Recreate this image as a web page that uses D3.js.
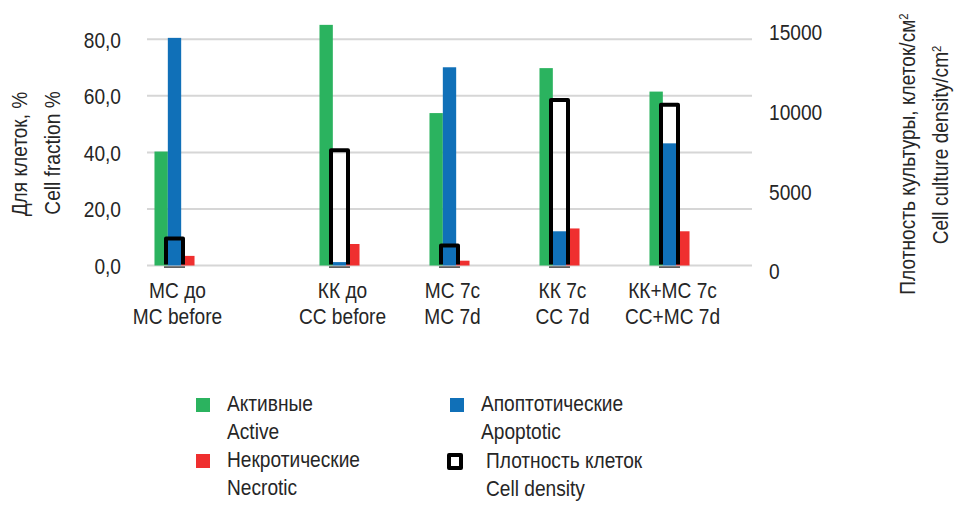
<!DOCTYPE html>
<html>
<head>
<meta charset="utf-8">
<script src="https://cdn.jsdelivr.net/npm/d3@7/dist/d3.min.js"></script>
<style>
  body { margin: 0; background: #fff; }
  text { font-family: "Liberation Sans", Arial, sans-serif; fill: #262626; }
</style>
</head>
<body>
<svg id="chart" width="956" height="507"></svg>
<script>
// Category slots along the x axis (blank slots are empty columns of the sheet)
const categoriesRu = ["МС до", "", "", "КК до", "", "МС 7с", "", "КК 7с", "", "КК+МС 7с", ""];
const categoriesEn = ["MC before", "", "", "CC before", "", "MC 7d", "", "CC 7d", "", "CC+MC 7d", ""];

// Cell fractions, % (left axis)
const activeValues    = [40.3, null, null, 85.1, null, 53.9, null, 69.8, null, 61.5, null];
const apoptoticValues = [80.5, null, null, 1.2,  null, 70.1, null, 12.1, null, 43.2, null];
const necroticValues  = [3.4,  null, null, 7.6,  null, 1.7,  null, 13.1, null, 12.1, null];

// Cell culture density, cells/cm² (right axis)
const densityValues   = [1700, null, null, 7250, null, 1250, null, 10400, null, 10100, null];

const leftTicks  = [0, 20, 40, 60, 80];
const rightTicks = [0, 5000, 10000, 15000];

const seriesNames = ["active", "apoptotic", "necrotic"];
const seriesColors = { active: "#2bb35f", apoptotic: "#1070b8", necrotic: "#ef2f2f" };

const svg = d3.select("#chart");
const plot = { left: 147, right: 752, top: 11, bottom: 265.5 };
const fontSize = 22;      // tall, condensed lettering
const squeeze = 0.87;     // horizontal condensation of all text

const slots = d3.range(categoriesRu.length);
const x0 = d3.scaleBand().domain(slots).range([plot.left, plot.right]).padding(0);
const x1 = d3.scaleBand().domain(seriesNames)
  .range([x0.bandwidth() * 0.136, x0.bandwidth() * 0.864]).padding(0);
const yLeft = d3.scaleLinear().domain([0, 90]).range([plot.bottom, plot.top]);
const yRight = d3.scaleLinear().domain([0, 16000]).range([plot.bottom, plot.top]);

// Text helper: positioned, optionally rotated, horizontally condensed
function addText(parent, x, y, str, opts = {}) {
  const rot = opts.rotate ? ` rotate(${opts.rotate})` : "";
  return parent.append("text")
    .attr("transform", `translate(${x},${y})${rot} scale(${squeeze},1)`)
    .attr("text-anchor", opts.anchor || "start")
    .attr("font-size", opts.size || fontSize)
    .text(str);
}

// Horizontal gridlines
svg.append("g").selectAll("line").data(leftTicks).join("line")
  .attr("x1", plot.left).attr("x2", plot.right)
  .attr("y1", d => yLeft(d)).attr("y2", d => yLeft(d))
  .attr("stroke", "#d6d6d6").attr("stroke-width", 2);

// Fraction bars
const rows = slots.map(i => ({
  i,
  vals: { active: activeValues[i], apoptotic: apoptoticValues[i], necrotic: necroticValues[i] }
}));
const groups = svg.append("g").selectAll("g").data(rows).join("g")
  .attr("transform", d => `translate(${x0(d.i)},0)`);
groups.selectAll("rect")
  .data(d => seriesNames.filter(s => d.vals[s] != null).map(s => ({ s, v: d.vals[s] })))
  .join("rect")
  .attr("x", d => x1(d.s))
  .attr("width", x1.bandwidth())
  .attr("y", d => yLeft(d.v))
  .attr("height", d => yLeft(0) - yLeft(d.v))
  .attr("fill", d => seriesColors[d.s]);

// Density bars: open outlined columns on the secondary axis
const boxW = 17;
const densityRows = slots.filter(i => densityValues[i] != null)
  .map(i => ({ cx: x0(i) + x0.bandwidth() / 2, v: densityValues[i] }));
const dens = svg.append("g");
dens.selectAll("path").data(densityRows).join("path")
  .attr("d", d => {
    const l = d.cx - boxW / 2, r = d.cx + boxW / 2, t = yRight(d.v), b = yRight(0) - 1;
    return `M${l},${b}V${t}H${r}V${b}`;
  })
  .attr("fill", "none").attr("stroke", "#000").attr("stroke-width", 4)
  .attr("stroke-linejoin", "round");
dens.selectAll("line").data(densityRows).join("line")
  .attr("x1", d => d.cx - boxW / 2 - 2).attr("x2", d => d.cx + boxW / 2 + 2)
  .attr("y1", yRight(0) + 1.6).attr("y2", yRight(0) + 1.6)
  .attr("stroke", "#606060").attr("stroke-width", 1.8);

// Left axis labels
const fmtLeft = d => d3.format(".1f")(d).replace(".", ",");
const leftAxis = svg.append("g")
  .attr("transform", `translate(121,1)`)
  .call(d3.axisLeft(yLeft).tickValues(leftTicks).tickFormat(fmtLeft).tickSize(0).tickPadding(0));
leftAxis.select(".domain").remove();
leftAxis.selectAll("text").attr("font-size", fontSize).attr("fill", "#262626")
  .attr("transform", `scale(${squeeze},1)`)
  .style("font-family", '"Liberation Sans", Arial, sans-serif');

// Right axis labels
const rightAxis = svg.append("g")
  .attr("transform", `translate(769,6)`)
  .call(d3.axisRight(yRight).tickValues(rightTicks).tickFormat(d3.format("d")).tickSize(0).tickPadding(0));
rightAxis.select(".domain").remove();
rightAxis.selectAll("text").attr("font-size", fontSize).attr("fill", "#262626")
  .attr("transform", `scale(${squeeze},1)`)
  .style("font-family", '"Liberation Sans", Arial, sans-serif');

// Category labels (two lines)
const catG = svg.append("g");
slots.filter(i => categoriesRu[i] !== "").forEach(i => {
  const cx = x0(i) + x0.bandwidth() / 2 + 3;
  addText(catG, cx, 297.5, categoriesRu[i], { anchor: "middle" });
  addText(catG, cx, 323.5, categoriesEn[i], { anchor: "middle" });
});

// Axis titles
function vTitle(xBase, yCenter, main, sup) {
  const t = addText(svg, xBase, yCenter, main, { anchor: "middle", rotate: -90 });
  if (sup) t.append("tspan").attr("font-size", 13).attr("baseline-shift", "super").text(sup);
}
vTitle(27, 154, "Для клеток, %");
vTitle(60, 153, "Cell fraction %");
vTitle(915, 154, "Плотность культуры, клеток/см", "2");
vTitle(948, 145, "Cell culture density/cm", "2");

// Legend
const legendItems = [
  { ru: "Активные", en: "Active", x: 196, y: 398, kind: "active" },
  { ru: "Апоптотические", en: "Apoptotic", x: 450, y: 398, kind: "apoptotic" },
  { ru: "Некротические", en: "Necrotic", x: 196, y: 454, kind: "necrotic" },
  { ru: "Плотность клеток", en: "Cell density", x: 449, y: 455, kind: "density" }
];
const lg = svg.append("g");
legendItems.forEach(d => {
  if (d.kind === "density") {
    lg.append("rect").attr("x", d.x).attr("y", d.y).attr("width", 12).attr("height", 13)
      .attr("fill", "none").attr("stroke", "#000").attr("stroke-width", 4)
      .attr("stroke-linejoin", "round");
  } else {
    lg.append("rect").attr("x", d.x).attr("y", d.y).attr("width", 14).attr("height", 14)
      .attr("fill", seriesColors[d.kind]);
  }
  const tx = d.kind === "density" ? d.x + 37 : d.x + 31;
  const by = d.y + 13;
  addText(lg, tx, by, d.ru);
  addText(lg, tx, by + 27.5, d.en);
});
</script>
</body>
</html>
